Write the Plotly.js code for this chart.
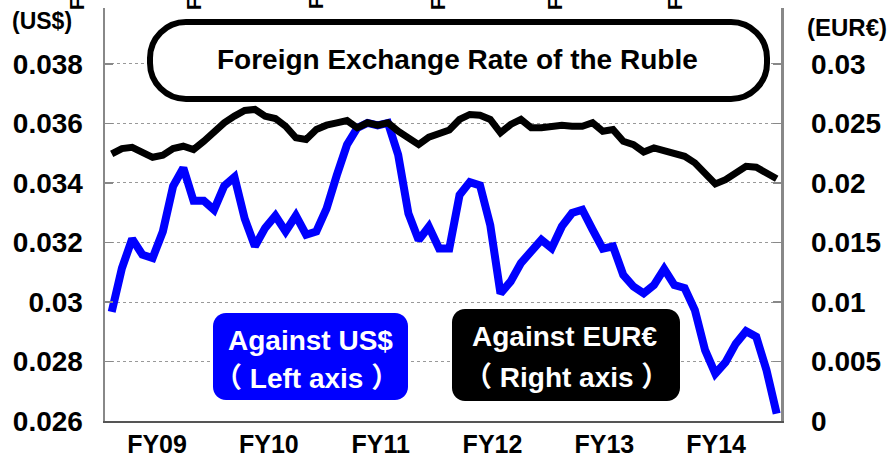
<!DOCTYPE html>
<html><head><meta charset="utf-8">
<script src="https://cdn.plot.ly/plotly-3.0.1.min.js"></script>
<style>html,body{margin:0;padding:0;background:#fff}#chart{width:893px;height:462px}</style>
</head><body><div id="chart"></div>
<script>
// Ruble against US$ (left axis)
const usd = [0.02967,0.03114,0.03212,0.03159,0.03148,0.03237,0.03389,0.03451,0.0334,0.0334,
             0.0331,0.0339,0.0342,0.0328,0.03187,0.03249,0.0329,0.03237,0.0329,0.03226,
             0.03237,0.03314,0.03426,0.03529,0.03585,0.03602,0.03594,0.03602,0.03495,0.03298,
             0.03208,0.03253,0.0318,0.0318,0.0336,0.03403,0.03392,0.03259,0.03029,0.03069,
             0.03131,0.0317,0.03209,0.03181,0.03254,0.03299,0.0331,0.03243,0.03179,0.03187,
             0.03091,0.03052,0.03029,0.03057,0.03111,0.03057,0.03047,0.02973,0.02838,0.02759,
             0.02798,0.0286,0.02902,0.02883,0.02771,0.02625];
// Ruble against EUR€ (right axis)
const eur = [0.02245,0.02289,0.023,0.02261,0.02216,0.02233,0.02289,0.02309,0.02281,0.02351,
             0.0243,0.02506,0.02562,0.0261,0.02618,0.02562,0.02542,0.02477,0.0238,0.02365,
             0.02449,0.02486,0.02506,0.02525,0.02464,0.02506,0.02486,0.02506,0.02435,0.02385,
             0.02323,0.02385,0.02413,0.02445,0.02534,0.02576,0.0257,0.02534,0.02422,0.02492,
             0.02534,0.02464,0.02464,0.02477,0.02486,0.02477,0.02477,0.02506,0.02435,0.02449,
             0.02351,0.02323,0.02261,0.02295,0.02272,0.02261,0.02224,0.02169,0.02076,0.01992,
             0.02028,0.02084,0.0214,0.02132,0.02076,0.02036];
const period = usd.map((_, i) => i);
const fyLabels = ['FY09','FY10','FY11','FY12','FY13','FY14'];
const fyTickPos = [4.43, 15.36, 26.29, 37.22, 48.15, 59.08];
const leftTicks = [0.026,0.028,0.03,0.032,0.034,0.036,0.038];
const leftTickText = ['0.026','0.028','0.03','0.032','0.034','0.036','0.038'];
const rightTicks = [0,0.005,0.01,0.015,0.02,0.025,0.03];
const rightTickText = ['0','0.005','0.01','0.015','0.02','0.025','0.03'];
// partially visible rotated labels at the very top edge
const topStubs = ['FY09','FY10','FY11','FY12','FY13','FY14'];
const topStubX = [77,194,316,438,555,675];

const W=893,H=462,ML=105,MR=112,MT=8,MB=41;
const PW=W-ML-MR, PH=H-MT-MB;
const px = x => (x-ML)/PW;
const py = y => (H-MB-y)/PH;
function rr(x0,y0,x1,y1,r){
  const k=0.552*r;
  const P=(x,y)=>px(x).toFixed(5)+','+py(y).toFixed(5);
  return 'M'+P(x0+r,y0)+' L'+P(x1-r,y0)+
    ' C'+P(x1-r+k,y0)+' '+P(x1,y0+r-k)+' '+P(x1,y0+r)+
    ' L'+P(x1,y1-r)+
    ' C'+P(x1,y1-r+k)+' '+P(x1-r+k,y1)+' '+P(x1-r,y1)+
    ' L'+P(x0+r,y1)+
    ' C'+P(x0+r-k,y1)+' '+P(x0,y1-r+k)+' '+P(x0,y1-r)+
    ' L'+P(x0,y0+r)+
    ' C'+P(x0,y0+r-k)+' '+P(x0+r-k,y0)+' '+P(x0+r,y0)+' Z';
}
const FF = 'Liberation Sans, Arial, Noto Sans CJK JP, sans-serif';
const ann = (x,y,text,size,color,extra) => Object.assign({xref:'paper',yref:'paper',x:px(x),y:py(y),text:text,
  showarrow:false,xanchor:'center',yanchor:'middle',font:{family:FF,size:size,color:color,weight:700}}, extra||{});

const traces = [
  {x: period, y: usd, type:'scatter', mode:'lines', line:{color:'#0000FF', width:8}, yaxis:'y', hoverinfo:'skip'},
  {x: period, y: eur, type:'scatter', mode:'lines', line:{color:'#000000', width:7}, yaxis:'y2', hoverinfo:'skip'}
];
const annotations = [
  ann(458,60,'Foreign Exchange Rate of the Ruble',28,'#000'),
  ann(42,21,'(US$)',23,'#000'),
  ann(847,27,'(EUR€)',24,'#000'),
  ann(310,340,'Against US$',28,'#fff'),
  ann(306,378,'（\u00a0Left axis\u00a0）',28,'#fff'),
  ann(565,336,'Against EUR€',28,'#fff'),
  ann(566,377,'（\u00a0Right axis\u00a0）',28,'#fff')
];
topStubs.forEach((t,i)=>annotations.push(ann(topStubX[i],-14,t,20,'#000',{textangle:-90})));

const layout = {
  width:W, height:H, margin:{l:ML,r:MR,t:MT,b:MB,pad:0},
  paper_bgcolor:'#fff', plot_bgcolor:'#fff', showlegend:false,
  xaxis:{range:[-0.655,65.42], tickvals:fyTickPos, ticktext:fyLabels, showgrid:false, zeroline:false,
    showline:true, linecolor:'#555', linewidth:2, ticks:'', ticklabelstandoff:0,
    tickfont:{family:FF,size:25,color:'#000',weight:700}},
  yaxis:{range:[0.026,0.039882], tickvals:leftTicks, ticktext:leftTickText, showgrid:true, gridcolor:'#999',
    griddash:'dot', gridwidth:1, zeroline:false, showline:true, linecolor:'#888', linewidth:2.5,
    ticks:'inside', ticklen:8, tickcolor:'#888', tickwidth:1.5, ticklabelstandoff:14,
    tickfont:{family:FF,size:28,color:'#000',weight:700}},
  yaxis2:{overlaying:'y', side:'right', range:[0,0.034706], tickvals:rightTicks, ticktext:rightTickText,
    showgrid:false, zeroline:false, showline:true, linecolor:'#888', linewidth:2.5,
    ticks:'inside', ticklen:8, tickcolor:'#888', tickwidth:1.5, ticklabelstandoff:22,
    tickfont:{family:FF,size:28,color:'#000',weight:700}},
  shapes:[
    {type:'path', xref:'paper', yref:'paper', path:rr(150,22,767,99,36), fillcolor:'#fff', line:{color:'#000',width:6}, layer:'above'},
    {type:'path', xref:'paper', yref:'paper', path:rr(213,313,408,400,13), fillcolor:'#0000FF', line:{width:0}, layer:'above'},
    {type:'path', xref:'paper', yref:'paper', path:rr(452,309,680,401,13), fillcolor:'#000', line:{width:0}, layer:'above'}
  ],
  annotations: annotations
};
Plotly.newPlot('chart', traces, layout, {staticPlot:true, displayModeBar:false});
</script></body></html>
